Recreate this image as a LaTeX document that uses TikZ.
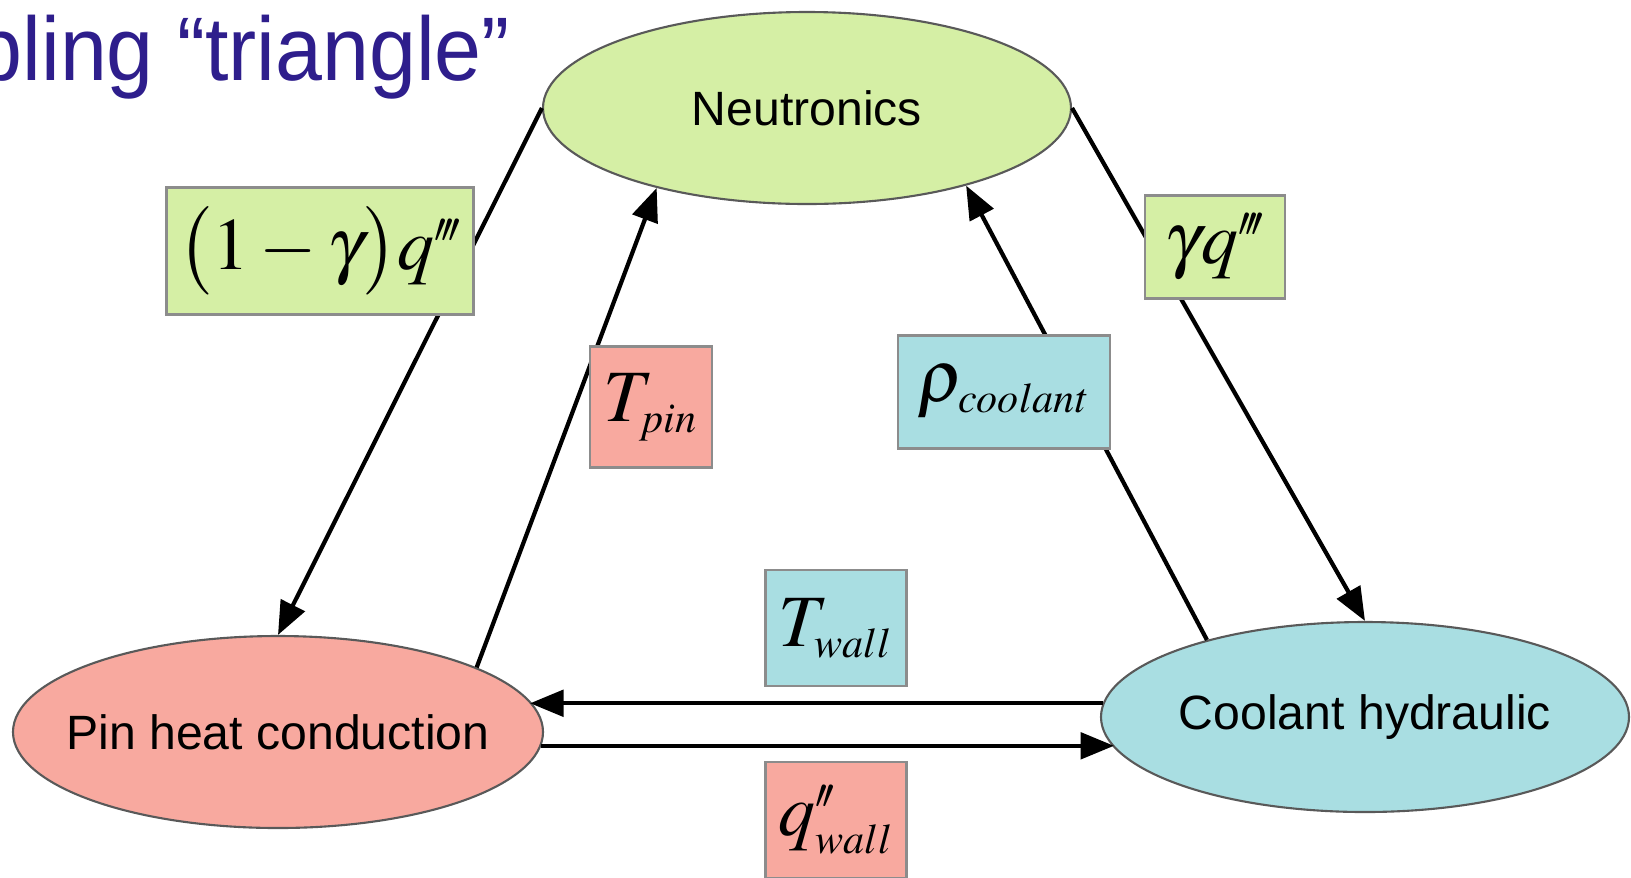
\documentclass[tikz,border=0pt]{standalone}
\usepackage{mathptmx}
\usepackage[no-math]{fontspec}
\setmainfont{Liberation Sans}
\usepackage{tikz}
\usetikzlibrary{arrows.meta,shapes.geometric}
\definecolor{neutlime}{HTML}{D5EFA5}
\definecolor{pinrose}{HTML}{F8A99F}
\definecolor{coolcyan}{HTML}{A9DEE2}
\definecolor{titleblue}{HTML}{2E1E8C}
% subscripts on the slide are set rather small next to the big symbols
\DeclareMathSizes{21}{21}{12}{9}

\begin{document}
\begin{tikzpicture}[x=1cm, y=1cm, line width=1.2pt, font=\fontsize{13.7}{16}\selectfont,
  blob/.style={ellipse, draw=black!65, line width=0.6pt, inner ysep=0pt, inner xsep=-0.35cm},
  tag/.style={rectangle, draw=black!45, line width=0.8pt, inner sep=0pt,
    font=\fontsize{21}{25}\selectfont},
  feed/.style={-{Triangle[length=9.5pt, width=7.5pt]}}]

  % Page frame: the slide is cut on the left, so the title only shows its tail.
  \useasboundingbox (0,0) rectangle (16.31,-8.77);
  \clip (0,0) rectangle (16.31,-8.77);

  \node[anchor=base east, text=titleblue, font=\fontsize{24}{28}\selectfont, yscale=1.07]
    (title) at (5.24,-0.80) {pling “triangle”};

  % The three solvers
  \node[blob, fill=neutlime, minimum width=5.28cm, minimum height=1.92cm] (neut) at (8.07,-1.08) {Neutronics};
  \node[blob, fill=pinrose,  minimum width=5.30cm, minimum height=1.92cm] (pin)  at (2.78,-7.32) {Pin heat conduction};
  \node[blob, fill=coolcyan, minimum width=5.28cm, minimum height=1.90cm] (cool) at (13.65,-7.17) {Coolant hydraulic};

  % Couplings -- drawn first so that the labels sit on top of them
  \draw[feed] (neut.west) -- (pin.north);
  \draw[feed] (neut.east) -- (cool.north);
  \draw[feed] (pin.18) -- (neut.208);
  \draw[feed] (cool.154) -- (neut.334);
  \draw[feed] (cool.177) -- (cool.177 -| pin.7);
  \draw[feed] (pin.357) -- (pin.357 -| cool.187);

  % Exchanged quantities
  \node[tag, fill=neutlime, minimum width=3.07cm, minimum height=1.27cm] (qpin)  at (3.20,-2.51) {$\bigl(1-\gamma\bigr)q^{\prime\!\prime\!\prime}$};
  \node[tag, fill=neutlime, minimum width=1.40cm, minimum height=1.03cm] (qcool) at (12.15,-2.47) {$\gamma q^{\prime\!\prime\!\prime}$};
  \node[tag, fill=pinrose,  minimum width=1.22cm, minimum height=1.21cm] (tpin)  at (6.51,-4.07) {$T_{pin}$};
  \node[tag, fill=coolcyan, minimum width=2.12cm, minimum height=1.13cm] (rho)   at (10.04,-3.92) {$\rho_{coolant}$};
  \node[tag, fill=coolcyan, minimum width=1.41cm, minimum height=1.16cm] (twall) at (8.36,-6.28) {$T_{wall}$};
  \node[tag, fill=pinrose,  minimum width=1.41cm, minimum height=1.16cm] (qwall) at (8.36,-8.20) {$q^{\prime\!\prime}_{wall}$};

\end{tikzpicture}
\end{document}
